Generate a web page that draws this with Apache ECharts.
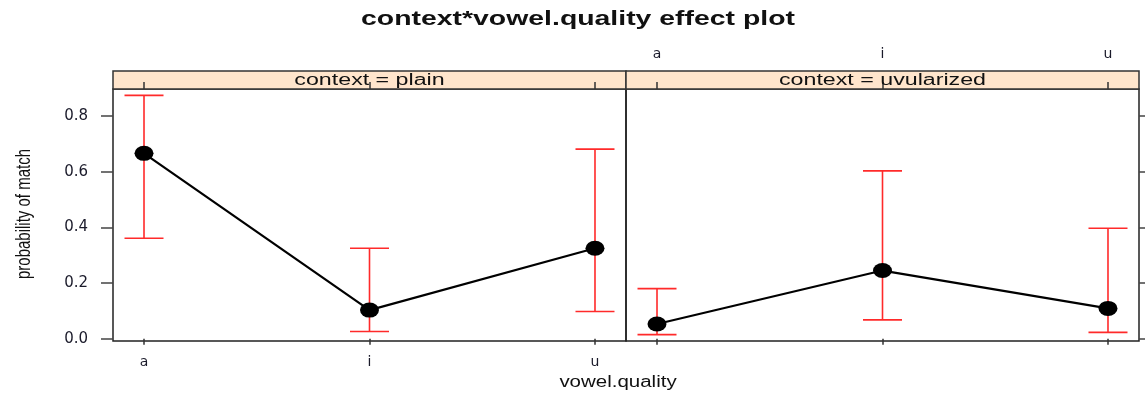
<html>
<head>
    <meta charset='utf-8'>
    <script src='https://cdn.jsdelivr.net/npm/echarts@6/dist/echarts.min.js'></script>
    <style>
        html, body, #main {
            width: 100%;
            height: 100%;
            margin: 0;
            background: #fff;
        }
    </style>
</head>
<body>
<div id='main'></div>
<script>
    var categories = ['a', 'i', 'u'];
    var yTicks = [0, 0.2, 0.4, 0.6, 0.8];
    var panels = ['context = plain', 'context = uvularized'];
    var plainFit = [0.666, 0.103, 0.325];
    var plainLower = [0.361, 0.026, 0.098];
    var plainUpper = [0.874, 0.325, 0.681];
    var uvularFit = [0.053, 0.245, 0.109];
    var uvularLower = [0.015, 0.068, 0.023];
    var uvularUpper = [0.180, 0.603, 0.397];

    var X_MIN = 0.8625, X_MAX = 3.1375, Y_MIN = -0.008, Y_MAX = 0.897;
    var catValues = categories.map(function (c, i) { return i + 1; });
    var font = 'Liberation Sans, Arial, sans-serif';

    function fitData(fit) {
        return fit.map(function (v, i) { return [i + 1, v]; });
    }
    function barData(lower, upper) {
        return lower.map(function (v, i) { return [i + 1, v, upper[i]]; });
    }
    function catLabel(v) { return categories[Math.round(v) - 1] || ''; }

    function renderBar(params, api) {
        var lo = api.coord([api.value(0), api.value(1)]);
        var hi = api.coord([api.value(0), api.value(2)]);
        var w = 19.5;
        var st = { stroke: '#ff2a2a', lineWidth: 1.6 };
        return {
            type: 'group',
            children: [
                { type: 'line', shape: { x1: lo[0], y1: lo[1], x2: hi[0], y2: hi[1] }, style: st },
                { type: 'line', shape: { x1: lo[0] - w, y1: lo[1], x2: lo[0] + w, y2: lo[1] }, style: st },
                { type: 'line', shape: { x1: hi[0] - w, y1: hi[1], x2: hi[0] + w, y2: hi[1] }, style: st }
            ]
        };
    }

    function xAx(gridIndex, pos, showLabel, tickLen, margin) {
        return {
            type: 'value', gridIndex: gridIndex, position: pos,
            min: X_MIN, max: X_MAX,
            axisLine: { show: false },
            splitLine: { show: false },
            axisTick: { show: true, inside: false, length: tickLen, customValues: catValues,
                lineStyle: { color: '#333', width: 1.5 } },
            axisLabel: { show: showLabel, customValues: catValues, formatter: catLabel, margin: margin,
                fontFamily: 'DejaVu Sans', fontSize: 14, color: '#1a1a2a' }
        };
    }
    function yAx(gridIndex, pos, showLabel, tickLen) {
        return {
            type: 'value', gridIndex: gridIndex, position: pos,
            min: Y_MIN, max: Y_MAX,
            axisLine: { show: false },
            splitLine: { show: false },
            axisTick: { show: tickLen > 0, inside: false, length: tickLen, customValues: yTicks,
                lineStyle: { color: '#444', width: 1.5 } },
            axisLabel: { show: showLabel, customValues: yTicks, margin: 25,
                formatter: function (v) { return v.toFixed(1); },
                fontFamily: 'DejaVu Sans', fontSize: 15, color: '#1a1a2a' }
        };
    }
    function stripY(gridIndex) {
        return { type: 'value', gridIndex: gridIndex, min: 0, max: 1, show: false };
    }

    function stretchedText(text, x, y, size, weight, sx, sy, rot) {
        return {
            type: 'text', x: x, y: y, scaleX: sx, scaleY: sy, rotation: rot || 0, z: 100,
            style: {
                text: text, fill: '#111',
                font: weight + ' ' + size + 'px ' + font,
                textAlign: 'center', textVerticalAlign: 'middle',
                align: 'center', verticalAlign: 'middle'
            }
        };
    }

    var myChart = echarts.init(document.getElementById('main'));
    myChart.setOption({
        backgroundColor: '#fff',
        animation: false,
        grid: [
            { left: 113, top: 89, width: 513, height: 252, show: true, borderColor: '#222', borderWidth: 1.5, backgroundColor: 'transparent' },
            { left: 626, top: 89, width: 513, height: 252, show: true, borderColor: '#222', borderWidth: 1.5, backgroundColor: 'transparent' },
            { left: 113, top: 71, width: 513, height: 18, show: true, borderColor: '#333', borderWidth: 1.5, backgroundColor: '#ffe5cc' },
            { left: 626, top: 71, width: 513, height: 18, show: true, borderColor: '#333', borderWidth: 1.5, backgroundColor: '#ffe5cc' }
        ],
        xAxis: [
            xAx(0, 'bottom', true, 6, 14),
            xAx(1, 'bottom', false, 6, 14),
            xAx(2, 'top', false, 7, 10),
            xAx(3, 'top', true, 7, 10)
        ],
        yAxis: [
            yAx(0, 'left', true, 12),
            yAx(1, 'right', false, 6),
            stripY(2),
            stripY(3)
        ],
        graphic: [
            stretchedText('context*vowel.quality effect plot', 578, 19, 20, 'bold', 1.42, 1),
            stretchedText(panels[0], 369.5, 81, 16, 'normal', 1.45, 1),
            stretchedText(panels[1], 882.5, 81, 16, 'normal', 1.45, 1),
            stretchedText('vowel.quality', 618, 383, 16, 'normal', 1.28, 1),
            stretchedText('probability of match', 24, 214, 15, 'normal', 1, 1.35, Math.PI / 2)
        ],
        series: [
            {
                type: 'custom', xAxisIndex: 0, yAxisIndex: 0, z: 2,
                data: barData(plainLower, plainUpper), renderItem: renderBar,
                encode: { x: 0, y: [1, 2] }
            },
            {
                type: 'custom', xAxisIndex: 1, yAxisIndex: 1, z: 2,
                data: barData(uvularLower, uvularUpper), renderItem: renderBar,
                encode: { x: 0, y: [1, 2] }
            },
            {
                type: 'line', xAxisIndex: 0, yAxisIndex: 0, z: 5,
                data: fitData(plainFit),
                symbol: 'circle', symbolSize: [19, 15],
                lineStyle: { color: '#000', width: 2.2 },
                itemStyle: { color: '#000' }
            },
            {
                type: 'line', xAxisIndex: 1, yAxisIndex: 1, z: 5,
                data: fitData(uvularFit),
                symbol: 'circle', symbolSize: [19, 15],
                lineStyle: { color: '#000', width: 2.2 },
                itemStyle: { color: '#000' }
            }
        ]
    });
</script>
</body>
</html>
